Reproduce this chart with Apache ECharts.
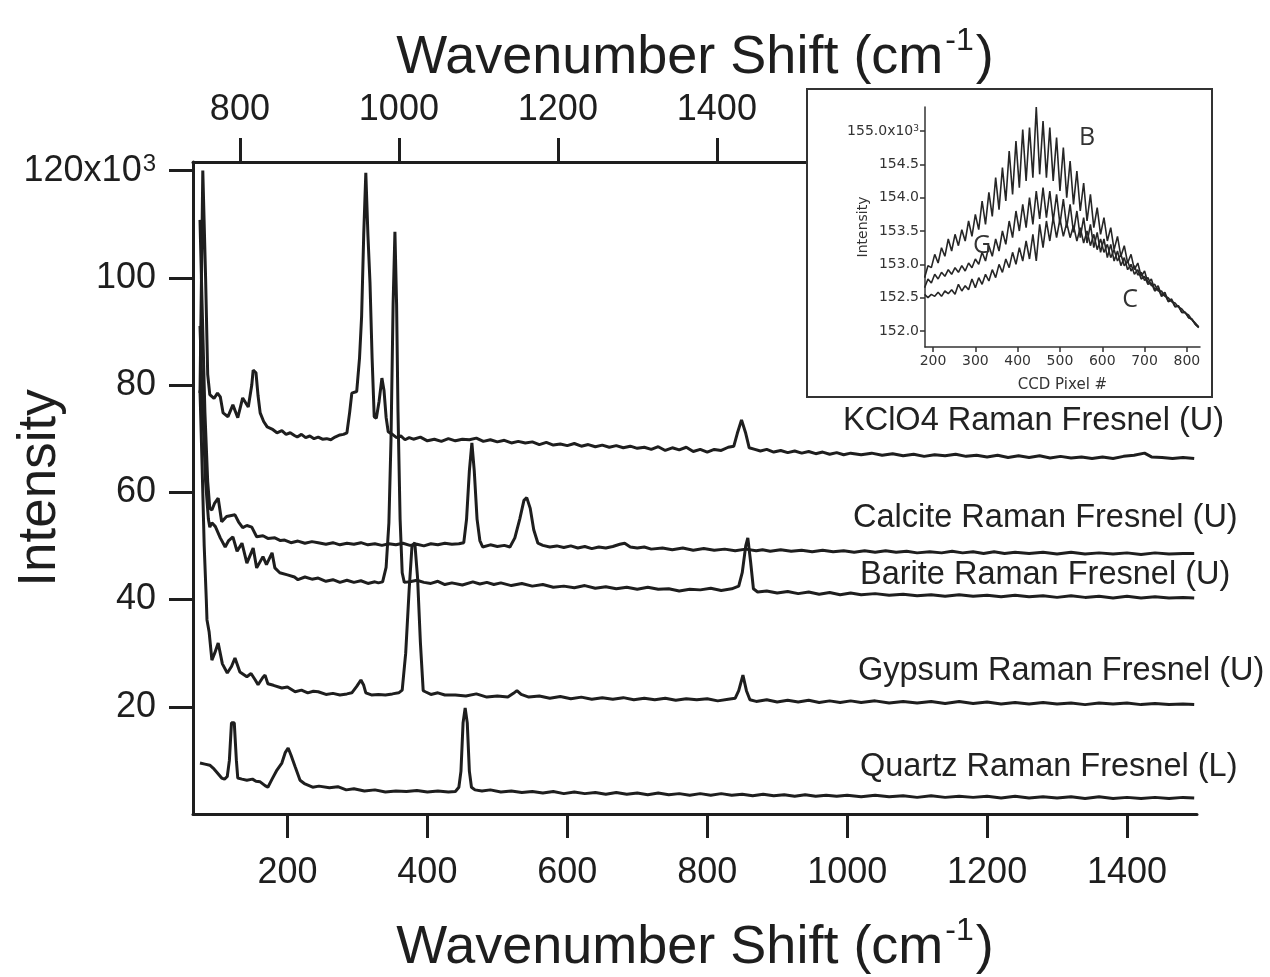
<!DOCTYPE html>
<html><head><meta charset="utf-8">
<script src="https://cdn.jsdelivr.net/npm/echarts@6/dist/echarts.min.js"></script>
<style>html,body{margin:0;padding:0;background:#fff}#c{width:1270px;height:977px}</style>
</head><body><div id="c"></div>
<script>
// ---------- tick values ----------
const bottomTicks = [200, 400, 600, 800, 1000, 1200, 1400];
const topTicks = [800, 1000, 1200, 1400, 1600, 1800];
const yTicks = [20, 40, 60, 80, 100, 120];
const insetXTicks = [200, 300, 400, 500, 600, 700, 800];
const insetYTicks = [152.0, 152.5, 153.0, 153.5, 154.0, 154.5, 155.0];

// ---------- series labels ----------
const seriesNames = ['KClO4 Raman Fresnel (U)', 'Calcite Raman Fresnel (U)', 'Barite Raman Fresnel (U)', 'Gypsum Raman Fresnel (U)', 'Quartz Raman Fresnel (L)'];

// ---------- main spectra [wavenumber, intensity x10^3] ----------
const kclo4 = [[75,78.5],[79,120],[83,100],[86,82],[89,78.2],[95,77.5],[100,78.5],[104,77.8],[108,74.8],[115,74.1],[122,76.3],[129,73.9],[136,77.6],[144,75.9],[149,80],[151,82.8],[155,82.3],[158,78],[161,74.8],[166,73.2],[171,72.2],[178,71.8],[185,71.1],[192,71.5],[198,70.8],[204,71.1],[210,70.6],[214,70.3],[220,70.8],[226,70.2],[232,70.5],[238,70.0],[244,70.3],[250,69.9],[256,70.0],[262,69.8],[268,70.3],[275,70.7],[280,70.8],[285,71.1],[289,75],[292,78.5],[299,78.8],[303,85],[306,92.8],[309,108],[312,119.6],[315,108],[318,99],[321,85],[324,74.1],[327,73.8],[331,77],[335,81.3],[338,79],[341,74],[344,71.3],[350,70.8],[356,70.2],[362,70.5],[368,69.8],[374,70.2],[380,69.9],[390,70.3],[400,69.6],[410,69.9],[420,69.5],[430,70.0],[440,69.6],[450,69.9],[460,69.8],[470,70.1],[480,69.5],[490,69.8],[500,69.4],[510,69.7],[520,69.2],[530,69.5],[540,69.2],[550,69.4],[560,68.9],[570,69.3],[580,68.8],[590,69.0],[600,68.7],[610,69.1],[620,68.6],[630,68.9],[640,68.5],[650,68.8],[660,68.4],[670,68.7],[680,68.3],[690,68.6],[700,68.2],[710,68.4],[720,68.0],[730,68.5],[740,67.8],[750,68.3],[760,67.9],[770,68.4],[780,67.6],[790,68.0],[800,67.5],[810,68.0],[820,67.8],[830,68.4],[838,68.6],[843,71],[849,73.5],[855,71],[860,68.3],[868,68.0],[876,67.7],[885,68.0],[895,67.5],[905,67.8],[915,67.4],[925,67.7],[935,67.3],[945,67.6],[955,67.2],[965,67.5],[975,67.1],[985,67.4],[995,67.0],[1005,67.3],[1020,67.0],[1035,67.3],[1050,66.9],[1065,67.2],[1080,66.8],[1095,67.1],[1110,66.7],[1125,67.0],[1140,66.8],[1155,67.1],[1170,66.7],[1185,66.9],[1200,66.6],[1215,66.9],[1230,66.5],[1245,66.8],[1260,66.5],[1275,66.8],[1290,66.4],[1305,66.7],[1320,66.4],[1335,66.6],[1350,66.3],[1365,66.6],[1380,66.3],[1395,66.7],[1410,66.9],[1425,67.3],[1435,66.6],[1450,66.5],[1465,66.3],[1480,66.5],[1496,66.3]];

const calcite = [[75,110.8],[78,95],[82,75],[86,62],[89,57],[92,56.7],[96,58],[101,58.9],[106,54.5],[113,55.5],[125,55.8],[130,54.5],[136,53.4],[142,53.8],[149,53.5],[156,51.7],[165,51.9],[172,51.4],[182,51.5],[190,51.0],[196,51.1],[205,50.6],[215,50.9],[225,50.5],[235,50.8],[244,50.6],[255,50.3],[265,50.6],[275,50.2],[285,50.5],[295,50.3],[305,50.6],[315,50.2],[325,50.4],[335,50.1],[345,50.4],[355,50.2],[365,50.5],[375,50.1],[385,50.3],[395,50.0],[405,50.4],[415,50.2],[425,50.5],[435,50.3],[445,50.4],[452,50.6],[456,55],[460,64],[463.6,69.2],[467,64],[471,55],[475,51],[479,49.8],[490,50.2],[500,49.9],[510,50.1],[518,49.8],[525,51.5],[532,55],[538,58.5],[542,59],[547,57],[552,53],[558,50.5],[565,50.1],[575,49.8],[585,50.0],[595,49.7],[605,50.0],[615,49.6],[625,49.9],[635,49.5],[645,49.8],[655,49.6],[665,49.9],[675,50.3],[682,50.5],[690,49.8],[700,49.6],[710,49.8],[720,49.4],[736,49.6],[750,49.3],[765,49.6],[780,49.2],[795,49.5],[810,49.2],[825,49.4],[840,49.1],[855,49.4],[870,49.1],[879,49.3],[890,49.0],[905,49.3],[920,49.0],[935,49.2],[950,48.9],[965,49.2],[980,48.9],[995,49.1],[1010,48.8],[1025,49.1],[1040,48.8],[1055,49.1],[1070,48.8],[1085,49.0],[1100,48.7],[1118,48.9],[1135,48.7],[1150,49.0],[1165,48.7],[1180,48.9],[1195,48.6],[1210,48.9],[1225,48.6],[1240,48.8],[1260,48.6],[1280,48.8],[1300,48.5],[1320,48.8],[1340,48.5],[1360,48.7],[1380,48.5],[1400,48.7],[1420,48.4],[1440,48.7],[1460,48.5],[1480,48.6],[1496,48.6]];

const barite = [[75,91],[79,75],[83,62],[87,55],[89,53.5],[92,54.3],[97,53.6],[104,51.5],[111,49.8],[116,51],[122,51.7],[128,49],[135,50.5],[142,46.8],[151,49.6],[156,45.9],[165,48],[170,46.5],[178,48.7],[182,45.9],[189,45],[200,44.6],[210,44.2],[215,43.7],[225,44.2],[235,43.8],[244,44.0],[255,43.4],[265,43.7],[275,43.2],[285,43.6],[295,43.2],[305,43.5],[315,43.0],[325,43.3],[330,43.1],[336,43.3],[341,46],[345,54.3],[348,69.8],[351,95],[353.6,108.6],[356,95],[358,75],[361,55],[364,45],[367,43.2],[375,43.3],[385,43.6],[395,43.2],[405,43.0],[415,43.4],[425,42.8],[435,43.1],[450,42.7],[465,43.3],[475,42.9],[485,43.2],[495,42.8],[505,43.1],[520,42.6],[535,43.0],[550,42.5],[565,42.8],[580,42.3],[595,42.5],[610,42.2],[625,42.6],[640,42.1],[655,42.4],[670,42.0],[685,42.3],[700,41.9],[715,42.3],[730,41.9],[745,42.0],[760,41.6],[775,41.9],[790,41.8],[805,42.1],[820,41.7],[835,42.0],[845,42.5],[850,45],[855,50],[858,51.5],[862,47],[866,42],[872,41.4],[885,41.6],[900,41.2],[915,41.5],[930,41.1],[945,41.4],[960,41.0],[975,41.3],[990,40.9],[1005,41.2],[1020,40.9],[1040,41.1],[1060,40.8],[1080,41.0],[1100,40.7],[1120,40.9],[1140,40.6],[1160,40.9],[1180,40.6],[1200,40.8],[1220,40.5],[1240,40.8],[1260,40.5],[1280,40.7],[1300,40.4],[1320,40.7],[1340,40.4],[1360,40.6],[1380,40.3],[1400,40.6],[1420,40.3],[1440,40.5],[1460,40.3],[1480,40.4],[1496,40.3]];

const gypsum = [[75,79],[78,65],[81,50],[84,40],[85,36.2],[88,34],[92,28.7],[96,30],[101,31.9],[107,28],[114,26.3],[120,27.5],[125,29.1],[132,26.5],[142,25.6],[148,26.2],[154,25.0],[158,24.1],[165,25.5],[168,25.9],[172,24.3],[180,24.0],[192,23.5],[200,23.7],[211,22.8],[220,23.1],[229,22.6],[237,22.9],[244,22.8],[255,22.3],[265,22.5],[275,22.2],[285,22.4],[292,22.6],[299,23.8],[305,25],[309,24],[312,22.6],[320,22.2],[330,22.3],[340,22.2],[350,22.4],[359,22.6],[364,23.1],[369,30],[374,42],[378,50],[382,50.6],[386,44],[390,32],[394,23],[397,22.8],[405,22.3],[415,22.6],[425,22.2],[440,22.2],[455,22.0],[470,22.4],[485,21.8],[500,22.0],[515,21.8],[523,22.5],[528,23.0],[534,22.3],[545,21.8],[560,22.0],[575,21.6],[590,21.9],[605,21.5],[620,21.8],[635,21.4],[650,21.7],[665,21.4],[680,21.7],[695,21.3],[710,21.6],[725,21.3],[740,21.6],[755,21.2],[770,21.5],[785,21.3],[800,21.5],[815,21.1],[830,21.4],[840,21.6],[845,23],[851,25.9],[856,23],[861,21.3],[870,21.0],[885,21.3],[900,20.9],[915,21.2],[930,20.9],[945,21.2],[960,20.8],[975,21.1],[990,20.8],[1005,21.1],[1020,20.8],[1040,21.1],[1060,20.7],[1080,21.0],[1100,20.7],[1120,21.0],[1140,20.6],[1160,21.0],[1180,20.6],[1200,20.9],[1220,20.5],[1240,20.8],[1260,20.5],[1280,20.8],[1300,20.5],[1320,20.7],[1340,20.4],[1360,20.7],[1380,20.5],[1400,20.7],[1420,20.4],[1440,20.6],[1460,20.4],[1480,20.5],[1496,20.4]];

const quartz = [[75,9.5],[82,9.3],[89,9.1],[95,8.4],[99,7.8],[106,6.7],[110,6.5],[114,7.0],[117,10],[120,17],[124,17],[127,10],[129,6.7],[135,6.5],[142,6.3],[150,6.5],[155,6.1],[161,6.0],[168,5.3],[172,5.0],[178,6.5],[185,8.2],[192,9.5],[197,11.5],[201,12.3],[205,11.0],[211,8.8],[218,6.3],[225,5.6],[236,5.0],[245,5.2],[260,4.9],[272,5.1],[284,4.5],[295,4.7],[310,4.3],[325,4.5],[340,4.1],[355,4.3],[370,4.2],[385,4.4],[400,4.1],[415,4.3],[430,4.1],[440,4.2],[445,5.0],[448,8],[451,17],[454,19.8],[457,17],[460,8],[463,5.0],[468,4.5],[478,4.3],[490,4.5],[505,4.1],[520,4.3],[535,4.0],[550,4.2],[565,3.9],[580,4.2],[595,3.8],[610,4.1],[625,3.8],[640,4.0],[655,3.7],[670,4.0],[685,3.7],[700,3.9],[715,3.6],[730,3.9],[745,3.6],[760,3.8],[775,3.5],[790,3.8],[805,3.5],[820,3.8],[835,3.5],[850,3.7],[865,3.4],[880,3.7],[895,3.4],[910,3.6],[925,3.3],[940,3.6],[955,3.3],[970,3.5],[985,3.3],[1000,3.5],[1020,3.2],[1040,3.5],[1060,3.2],[1080,3.4],[1100,3.1],[1120,3.4],[1140,3.1],[1160,3.3],[1180,3.1],[1200,3.3],[1220,3.0],[1240,3.3],[1260,3.0],[1280,3.2],[1300,3.0],[1320,3.2],[1340,2.9],[1360,3.2],[1380,2.9],[1400,3.1],[1420,2.9],[1440,3.1],[1460,2.9],[1480,3.1],[1496,3.0]];

// ---------- inset: CCD pixel vs intensity (x10^3) ----------
const insetPixels = [180,188,196,204,212,220,228,236,244,252,260,268,276,284,292,300,308,316,324,332,340,348,356,364,372,380,388,396,404,412,420,428,436,444,452,460,468,476,484,492,500,508,516,524,532,540,548,556,564,572,580,588,596,604,612,620,628,636,644,652,660,668,676,684,692,700,708,716,724,732,740,748,756,764,772,780,788,796,804,812,820,828];
const insetB = [152.80,152.98,152.95,153.15,153.02,153.25,153.12,153.38,153.20,153.45,153.28,153.52,153.35,153.65,153.42,153.75,153.52,153.95,153.60,154.08,153.72,154.30,153.82,154.45,153.95,154.70,154.05,154.85,154.15,155.02,154.25,155.05,154.30,155.36,154.35,155.15,154.30,155.05,154.25,154.90,154.10,154.75,154.00,154.55,153.90,154.40,153.80,154.22,153.65,154.05,153.55,153.85,153.45,153.70,153.35,153.55,153.22,153.42,153.12,153.28,153.02,153.15,152.92,153.02,152.82,152.90,152.72,152.78,152.62,152.68,152.54,152.58,152.45,152.48,152.37,152.38,152.28,152.28,152.20,152.18,152.10,152.06];
const insetG = [152.65,152.78,152.72,152.85,152.78,152.88,152.82,152.92,152.85,152.95,152.88,152.98,152.90,153.02,152.95,153.08,153.00,153.18,153.05,153.28,153.12,153.38,153.20,153.50,153.30,153.65,153.40,153.80,153.50,153.90,153.55,154.00,153.60,154.10,153.68,154.15,153.70,154.10,153.65,154.05,153.60,153.98,153.55,153.90,153.48,153.80,153.40,153.70,153.32,153.60,153.25,153.48,153.18,153.38,153.10,153.30,153.05,153.20,152.98,153.10,152.92,153.00,152.85,152.92,152.78,152.82,152.70,152.72,152.60,152.64,152.52,152.55,152.44,152.46,152.36,152.37,152.28,152.28,152.20,152.17,152.10,152.05];
const insetC = [152.55,152.50,152.55,152.52,152.58,152.52,152.60,152.56,152.62,152.55,152.70,152.60,152.68,152.62,152.78,152.65,152.80,152.70,152.85,152.75,152.92,152.80,153.00,152.88,153.08,152.95,153.18,153.00,153.25,153.05,153.35,153.08,153.45,153.05,153.60,153.25,153.65,153.35,153.70,153.40,153.68,153.42,153.62,153.40,153.58,153.35,153.55,153.32,153.50,153.28,153.45,153.22,153.38,153.18,153.30,153.10,153.22,153.05,153.15,152.98,153.05,152.90,152.98,152.84,152.88,152.76,152.80,152.68,152.70,152.60,152.60,152.52,152.50,152.44,152.42,152.36,152.33,152.27,152.24,152.17,152.12,152.06];
const insetNames = ['B', 'G', 'C'];

// ---------- build ----------
const FONT = "'Liberation Sans', Arial, Helvetica, sans-serif";
const INK = '#1e1e1e';
const zip = (xs, ys) => xs.map((x, i) => [x, ys[i]]);
const plain = v => String(v);

const titleRich = {
  t: { fontSize: 54, lineHeight: 60, verticalAlign: 'bottom', color: INK, fontFamily: FONT },
  s: { fontSize: 32, lineHeight: 32, verticalAlign: 'top', padding: [0, 2, 54, 2], color: INK, fontFamily: FONT }
};
const titleText = '{t|Wavenumber Shift (cm}{s|-1}{t|)}';

const mainAxisCommon = {
  axisLine: { show: true, lineStyle: { color: INK, width: 3 } },
  axisTick: { show: true, inside: false, length: 24, lineStyle: { color: INK, width: 3 } },
  axisLabel: { color: INK, fontSize: 36, fontFamily: FONT, formatter: plain },
  splitLine: { show: false },
  nameMoveOverlap: false
};

const mainSeries = [kclo4, calcite, barite, gypsum, quartz].map((d, i) => ({
  type: 'line', name: seriesNames[i], data: d, xAxisIndex: 0, yAxisIndex: 0,
  showSymbol: false, symbol: 'none', lineStyle: { color: INK, width: 3 }, z: 2
}));
const insetSeries = [insetB, insetG, insetC].map((ys, i) => ({
  type: 'line', name: insetNames[i], data: zip(insetPixels, ys), xAxisIndex: 2, yAxisIndex: 1,
  showSymbol: false, symbol: 'none', lineStyle: { color: '#262626', width: 1.6 }, z: 70
}));

const labelPos = [[843, 421], [853, 518], [860, 575], [858, 671], [860, 767]];
const INSET_FONT = "'DejaVu Sans', 'Liberation Sans', sans-serif";

const option = {
  animation: false,
  backgroundColor: '#ffffff',
  grid: [
    { left: 193, top: 162, width: 1004, height: 652, containLabel: false, outerBoundsMode: 'none' },
    { left: 925, top: 107, width: 275, height: 240, containLabel: false, outerBoundsMode: 'none', z: 60 }
  ],
  xAxis: [
    Object.assign({}, mainAxisCommon, {
      type: 'value', gridIndex: 0, position: 'bottom', min: 65, max: 1500,
      axisTick: Object.assign({}, mainAxisCommon.axisTick, { customValues: bottomTicks }),
      axisLabel: Object.assign({}, mainAxisCommon.axisLabel, { customValues: bottomTicks, margin: 41 }),
      name: titleText, nameLocation: 'middle', nameGap: 101,
      nameTextStyle: { rich: titleRich }
    }),
    Object.assign({}, mainAxisCommon, {
      type: 'value', gridIndex: 0, position: 'top', min: 741, max: 2004,
      axisTick: Object.assign({}, mainAxisCommon.axisTick, { customValues: topTicks }),
      axisLabel: Object.assign({}, mainAxisCommon.axisLabel, { customValues: topTicks, margin: 34 }),
      name: titleText, nameLocation: 'middle', nameGap: 77,
      nameTextStyle: { rich: titleRich }
    }),
    {
      type: 'value', gridIndex: 1, position: 'bottom', min: 181, max: 831, z: 65,
      nameMoveOverlap: false,
      axisLine: { show: true, lineStyle: { color: '#333', width: 1.5 } },
      axisTick: { show: true, length: 5, customValues: insetXTicks, lineStyle: { color: '#333', width: 1.5 } },
      axisLabel: { customValues: insetXTicks, color: '#333', fontSize: 14, fontFamily: INSET_FONT, margin: 7, formatter: plain },
      splitLine: { show: false },
      name: 'CCD Pixel #', nameLocation: 'middle', nameGap: 31,
      nameTextStyle: { color: '#333', fontSize: 15, fontFamily: INSET_FONT }
    }
  ],
  yAxis: [
    Object.assign({}, mainAxisCommon, {
      type: 'value', gridIndex: 0, position: 'left', min: 0, max: 121.6,
      axisTick: Object.assign({}, mainAxisCommon.axisTick, { customValues: yTicks }),
      axisLabel: Object.assign({}, mainAxisCommon.axisLabel, {
        customValues: yTicks, margin: 37,
        formatter: v => (v === 120 ? '120x10{sup|3}' : String(v)),
        rich: { sup: { fontSize: 24, lineHeight: 24, verticalAlign: 'top', padding: [0, 0, 22, 1], color: INK, fontFamily: FONT } }
      }),
      name: 'Intensity', nameLocation: 'middle', nameGap: 126,
      nameTextStyle: { color: INK, fontSize: 53, fontFamily: FONT }
    }),
    {
      type: 'value', gridIndex: 1, position: 'left', min: 151.76, max: 155.36, z: 65,
      nameMoveOverlap: false,
      axisLine: { show: true, lineStyle: { color: '#333', width: 1.5 } },
      axisTick: { show: true, length: 5, customValues: insetYTicks, lineStyle: { color: '#333', width: 1.5 } },
      axisLabel: {
        customValues: insetYTicks, color: '#333', fontSize: 14, fontFamily: INSET_FONT, margin: 6,
        formatter: v => (Math.abs(v - 155) < 1e-6 ? '155.0x10{s|3}' : v.toFixed(1)),
        rich: { s: { fontSize: 9, lineHeight: 9, verticalAlign: 'top', padding: [0, 0, 8, 0], color: '#333', fontFamily: INSET_FONT } }
      },
      splitLine: { show: false },
      name: 'Intensity', nameLocation: 'middle', nameGap: 55,
      nameTextStyle: { color: '#333', fontSize: 14, fontFamily: INSET_FONT }
    }
  ],
  graphic: [
    { type: 'rect', z: 50, shape: { x: 807, y: 89, width: 405, height: 308 },
      style: { fill: '#ffffff', stroke: '#333333', lineWidth: 2 } },
    ...seriesNames.map((n, i) => ({
      type: 'text', z: 30, x: labelPos[i][0], y: labelPos[i][1],
      style: { text: n, fill: '#222', font: "32.5px 'Liberation Sans', Arial, sans-serif", textAlign: 'left', textVerticalAlign: 'middle' }
    })),
    { type: 'text', z: 90, x: 1087, y: 138, style: { text: 'B', fill: '#333', font: "25px 'Open Sans', 'Liberation Sans', sans-serif", textAlign: 'center', textVerticalAlign: 'middle' } },
    { type: 'text', z: 90, x: 982, y: 246, style: { text: 'G', fill: '#333', font: "25px 'Open Sans', 'Liberation Sans', sans-serif", textAlign: 'center', textVerticalAlign: 'middle' } },
    { type: 'text', z: 90, x: 1130, y: 300, style: { text: 'C', fill: '#333', font: "25px 'Open Sans', 'Liberation Sans', sans-serif", textAlign: 'center', textVerticalAlign: 'middle' } }
  ],
  series: mainSeries.concat(insetSeries)
};

const chart = echarts.init(document.getElementById('c'), null, { renderer: 'canvas' });
chart.setOption(option);
</script>
</body></html>
